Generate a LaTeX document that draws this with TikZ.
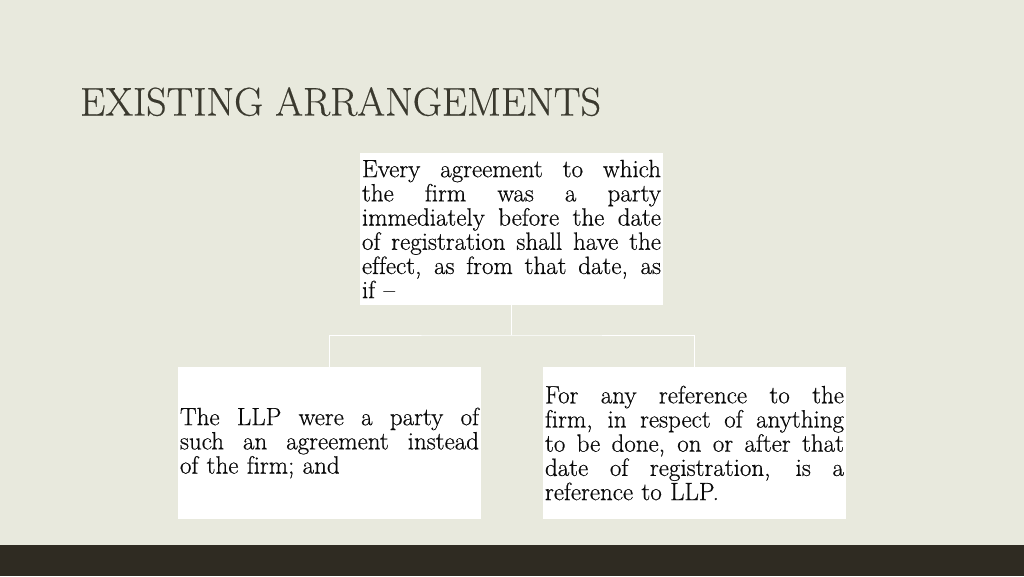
\documentclass[tikz,border=0pt]{standalone}
\usepackage{fontspec}
\setmainfont{Latin Modern Roman}
\newfontfamily\heavyfont{Latin Modern Roman}[FakeBold=0.5,Ligatures={TeX,NoCommon}]
\newfontfamily\titlefont{Latin Modern Roman}[FakeBold=0.4,Ligatures=TeX]
\usepackage{xcolor}
\definecolor{bg}{HTML}{E8E9DD}
\definecolor{strip}{HTML}{2F2B22}
\definecolor{titlec}{HTML}{3A392E}
\definecolor{txt}{HTML}{0A0A0A}
\newcommand{\jline}[1]{\makebox[299pt][s]{\spaceskip=0pt\xspaceskip=0pt #1}}
\begin{document}
\begin{tikzpicture}[x=1pt,y=-1pt,
  box/.style={fill=white,draw=none,minimum width=303pt,minimum height=152pt,
    text width=299pt,inner xsep=2pt,inner ysep=0pt,align=left,
    font=\heavyfont\fontsize{25}{24.2}\selectfont,text=txt},
  link/.style={draw=white,line width=1pt}]
\useasboundingbox (0,0) rectangle (1024,576);
\fill[bg] (0,0) rectangle (1024,545);
\fill[strip] (0,545) rectangle (1024,576);
\node[anchor=base west,inner sep=0pt,text=titlec,font=\titlefont\fontsize{40}{44}\selectfont] (title) at (80,115.5) {EXISTING ARRANGEMENTS};
\node[box] (top) at (511.5,229) {\jline{Every agreement to which}\\
\jline{the firm was a party}\\
\jline{immediately before the date}\\
\jline{of registration shall have the}\\
\jline{effect, as from that date, as}\\
if –};
\node[box] (left) at (329.5,443) {\jline{The LLP were a party of}\\
\jline{such an agreement instead}\\
of the firm; and};
\node[box] (right) at (694.5,443) {\jline{For any reference to the}\\
\jline{firm, in respect of anything}\\
\jline{to be done, on or after that}\\
\jline{date of registration, is a}\\
reference to LLP.};
\coordinate (j) at (511.5,335);
\draw[link] (top.south) -- (j);
\draw[link] (left.north) |- (j) -| (right.north);
\end{tikzpicture}
\end{document}
